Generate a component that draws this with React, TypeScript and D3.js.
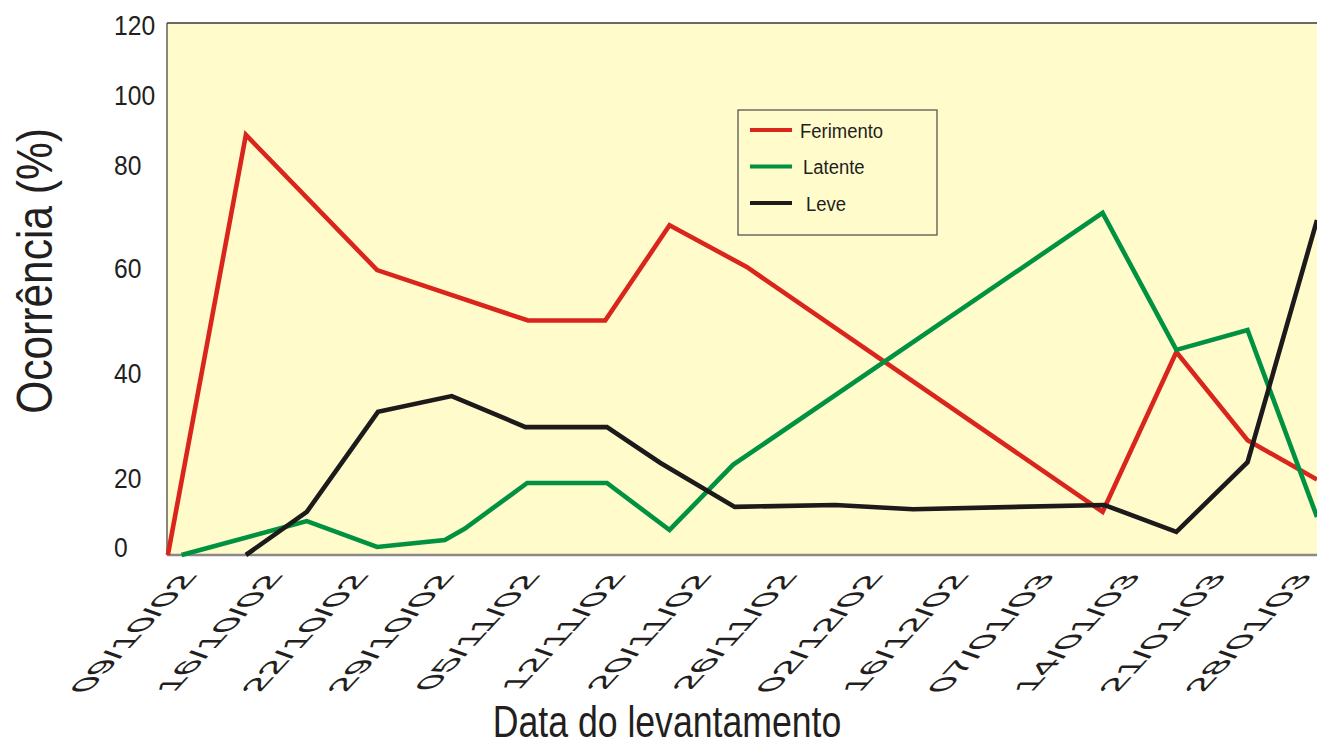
import { useEffect, useRef } from 'react';
import * as d3 from 'd3';

const dates = [
  '09/10/02', '16/10/02', '22/10/02', '29/10/02', '05/11/02', '12/11/02', '20/11/02',
  '26/11/02', '02/12/02', '16/12/02', '07/01/03', '14/01/03', '21/01/03', '28/01/03',
];

const yTicks = [0, 20, 40, 60, 80, 100, 120];

// positions are in date-label units (0 = first label)
const ferimentoPos = [-0.35, 0.56, 2.09, 3.85, 4.75, 5.5, 6.4, 10.55, 11.41, 12.24, 13.05];
const ferimentoVal = [0, 88.6, 59.6, 50, 50, 68.3, 60.2, 11.2, 44, 27.2, 19.6];

const latentePos = [-0.19, 1.27, 2.09, 2.88, 3.11, 3.84, 4.77, 5.5, 6.24, 10.55, 11.41, 12.24, 13.05];
const latenteVal = [0, 8.8, 2.1, 3.9, 6.8, 18.7, 18.7, 6.5, 22.5, 70.7, 44.4, 48.2, 9.9];

const levePos = [0.56, 1.27, 2.1, 2.96, 3.82, 4.77, 5.39, 6.26, 7.43, 8.34, 10.57, 11.41, 12.24, 13.05];
const leveVal = [0, 11.2, 32.6, 35.6, 29.7, 29.7, 22.9, 12.5, 13.0, 11.9, 13.0, 6.0, 23.0, 69.3];

const series = [
  { name: 'Ferimento', color: '#da251d', pos: ferimentoPos, val: ferimentoVal },
  { name: 'Latente', color: '#009240', pos: latentePos, val: latenteVal },
  { name: 'Leve', color: '#1c1a1a', pos: levePos, val: leveVal },
];

export default function App() {
  const svgRef = useRef<SVGSVGElement>(null);

  useEffect(() => {
    const svg = svgRef.current;
    if (!svg) return;

    const width = 1317;
    const height = 740;
    const plot = { left: 167, right: 1317, top: 23, bottom: 555 };
    const textColor = '#231f20';
    const font = "'Liberation Sans', Arial, sans-serif";

    const sel = d3.select(svg);
    sel.selectAll('*').remove();
    sel.attr('width', width).attr('height', height).attr('viewBox', `0 0 ${width} ${height}`);

    // x in label units, y is piecewise (the original axis is not evenly spaced)
    const x = d3.scaleLinear().domain([-0.36, 13.05]).range([plot.left, plot.right]);
    const y = d3
      .scaleLinear()
      .domain(yTicks)
      .range([plot.bottom, 478, 373, 268, 165, 95, plot.top]);

    // plot background
    sel.append('rect')
      .attr('x', plot.left)
      .attr('y', plot.top)
      .attr('width', plot.right - plot.left)
      .attr('height', plot.bottom - plot.top)
      .attr('fill', '#fffbcb');

    // frame
    sel.append('line')
      .attr('x1', plot.left).attr('x2', plot.right)
      .attr('y1', plot.top).attr('y2', plot.top)
      .attr('stroke', '#3a3836').attr('stroke-width', 1.3);
    sel.append('line')
      .attr('x1', plot.left).attr('x2', plot.left)
      .attr('y1', plot.top).attr('y2', plot.bottom)
      .attr('stroke', '#4a4846').attr('stroke-width', 1.3);
    sel.append('line')
      .attr('x1', plot.left).attr('x2', plot.right)
      .attr('y1', plot.bottom).attr('y2', plot.bottom)
      .attr('stroke', '#8c8985').attr('stroke-width', 2.5);

    // y tick labels (left aligned, condensed)
    sel.append('g')
      .selectAll('text')
      .data(yTicks)
      .join('text')
      .attr('transform', (d) => `translate(114,${Math.min(Math.max(y(d), 25), 547)}) scale(0.88,1)`)
      .attr('dy', '0.36em')
      .attr('font-family', font)
      .attr('font-size', 28)
      .attr('fill', textColor)
      .text((d) => d);

    // x tick labels: rotated + sheared like the original
    sel.append('g')
      .selectAll('text')
      .data(dates)
      .join('text')
      .attr('transform', (_, i) => `translate(${x(i) + 1},574) skewX(-43) rotate(-90)`)
      .attr('text-anchor', 'end')
      .attr('font-family', font)
      .attr('font-size', 30.5)
      .attr('fill', textColor)
      .text((d) => d);

    // axis titles
    sel.append('text')
      .attr('transform', 'translate(52,271) rotate(-90) scale(0.85,1)')
      .attr('text-anchor', 'middle')
      .attr('font-family', font)
      .attr('font-size', 50)
      .attr('fill', textColor)
      .text('Ocorrência (%)');

    sel.append('text')
      .attr('transform', 'translate(667,737) scale(0.81,1)')
      .attr('text-anchor', 'middle')
      .attr('font-family', font)
      .attr('font-size', 44)
      .attr('fill', textColor)
      .text('Data do levantamento');

    // lines
    const line = d3
      .line<[number, number]>()
      .x((d) => x(d[0]))
      .y((d) => y(d[1]));

    series.forEach((s) => {
      const pts = s.pos.map((p, i) => [p, s.val[i]] as [number, number]);
      sel.append('path')
        .datum(pts)
        .attr('d', line)
        .attr('fill', 'none')
        .attr('stroke', s.color)
        .attr('stroke-width', 4.6)
        .attr('stroke-linejoin', 'miter');
    });

    // legend
    const lg = sel.append('g').attr('transform', 'translate(738,110)');
    lg.append('rect')
      .attr('width', 199)
      .attr('height', 125)
      .attr('fill', 'none')
      .attr('stroke', '#4a4846')
      .attr('stroke-width', 1.2);
    const items = lg.selectAll('g.item')
      .data(series)
      .join('g')
      .attr('class', 'item')
      .attr('transform', (_, i) => `translate(0,${20 + i * 36.5})`);
    items.append('line')
      .attr('x1', 12).attr('x2', 54)
      .attr('stroke', (d) => d.color)
      .attr('stroke-width', 4);
    items.append('text')
      .attr('transform', (_, i) => `translate(${62 + i * 3},0) scale(0.88,1)`)
      .attr('dy', '0.36em')
      .attr('font-family', font)
      .attr('font-size', 21)
      .attr('fill', textColor)
      .text((d) => d.name);
  }, []);

  return (
    <svg
      ref={svgRef}
      style={{ position: 'absolute', left: 0, top: 0, display: 'block', background: '#fff' }}
    />
  );
}
